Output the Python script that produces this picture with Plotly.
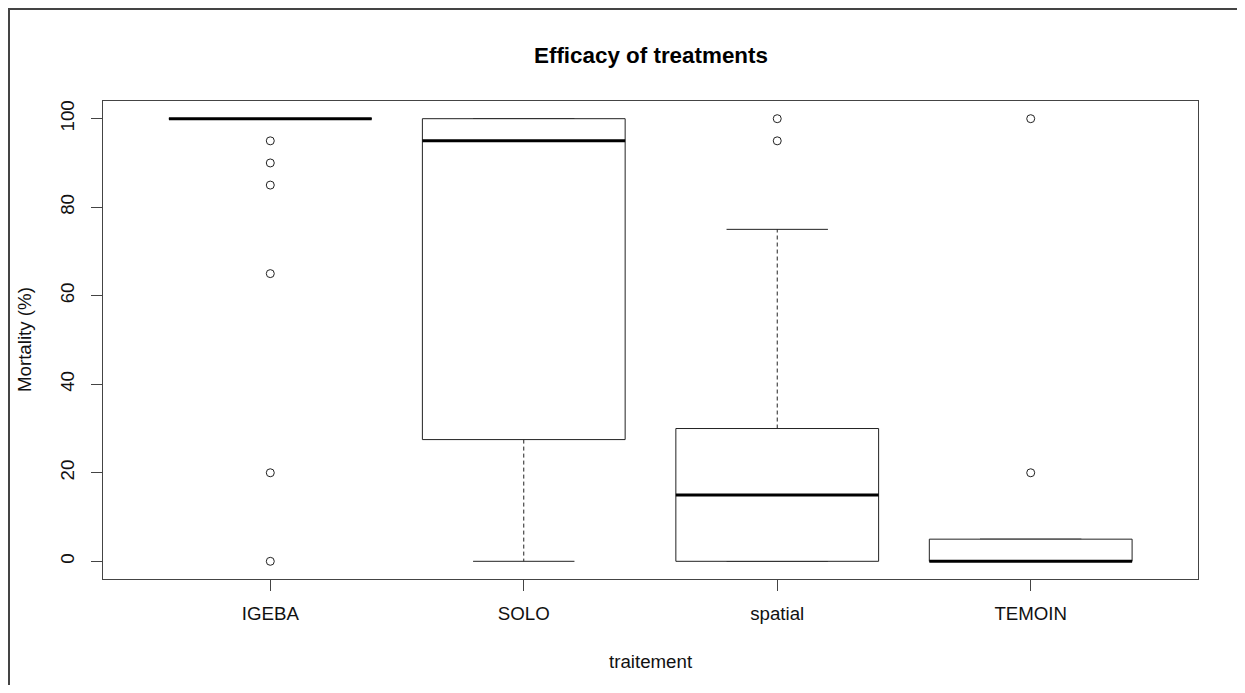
import plotly.graph_objects as go

# ---- data ----
categories = ["IGEBA", "SOLO", "spatial", "TEMOIN"]
q1 = [100, 27.5, 0, 0]
median = [100, 95, 15, 0]
q3 = [100, 100, 30, 5]
whisker_low = [100, 0, 0, 0]
whisker_high = [100, 100, 75, 5]
outliers = [
    [95, 90, 85, 65, 20, 0],
    [],
    [100, 95],
    [100, 20],
]
y_ticks = [0, 20, 40, 60, 80, 100]

# ---- layout constants (page pixels; the page body has an 8px margin) ----
OFF = 8
PAGE_W, PAGE_H = 1245, 693
W, H = PAGE_W - 2 * OFF, PAGE_H - 2 * OFF
plot_left, plot_right, plot_top, plot_bottom = 103, 1198, 101, 579
L = plot_left - OFF
T = plot_top - OFF
R = W - (plot_right - OFF)
B = H - (plot_bottom - OFF)
PW, PH = W - L - R, H - T - B
FONT = "Liberation Sans, Arial, sans-serif"
FS = 18.7
half_box = 0.4
half_staple = 0.2


def py(page_y):
    return (plot_bottom - page_y) / PH


def px(page_x):
    return (page_x - plot_left) / PW


pos = list(range(1, len(categories) + 1))

box_x, box_y = [], []
med_x, med_y = [], []
wh_x, wh_y = [], []
st_x, st_y = [], []
out_x, out_y = [], []
for i, p in enumerate(pos):
    box_x += [p - half_box, p + half_box, p + half_box, p - half_box, p - half_box, None]
    box_y += [q1[i], q1[i], q3[i], q3[i], q1[i], None]
    med_x += [p - half_box, p + half_box, None]
    med_y += [median[i], median[i], None]
    if whisker_high[i] > q3[i]:
        wh_x += [p, p, None]
        wh_y += [q3[i], whisker_high[i], None]
    if whisker_low[i] < q1[i]:
        wh_x += [p, p, None]
        wh_y += [q1[i], whisker_low[i], None]
    st_x += [p - half_staple, p + half_staple, None, p - half_staple, p + half_staple, None]
    st_y += [whisker_low[i], whisker_low[i], None, whisker_high[i], whisker_high[i], None]
    for v in outliers[i]:
        out_x.append(p)
        out_y.append(v)

fig = go.Figure()
fig.add_trace(go.Scatter(x=wh_x, y=wh_y, mode="lines",
                         line=dict(color="#222", width=1, dash="4px,3px"),
                         hoverinfo="skip"))
fig.add_trace(go.Scatter(x=st_x, y=st_y, mode="lines",
                         line=dict(color="#222", width=1), hoverinfo="skip"))
fig.add_trace(go.Scatter(x=box_x, y=box_y, mode="lines",
                         line=dict(color="#222", width=1), fill="toself",
                         fillcolor="white", hoverinfo="skip"))
fig.add_trace(go.Scatter(x=med_x, y=med_y, mode="lines",
                         line=dict(color="black", width=3), hoverinfo="skip"))
fig.add_trace(go.Scatter(x=out_x, y=out_y, mode="markers",
                         marker=dict(symbol="circle-open", size=8,
                                     color="#222", line=dict(width=1))))

axis_common = dict(
    showgrid=False, zeroline=False, showline=True, mirror=True,
    linecolor="#444", linewidth=1, ticks="outside", ticklen=11,
    tickcolor="#444", tickwidth=1,
    tickfont=dict(family=FONT, size=FS, color="#111"),
)

fig.update_layout(
    width=W, height=H,
    margin=dict(l=L, r=R, t=T, b=B),
    paper_bgcolor="white", plot_bgcolor="white",
    showlegend=False,
    xaxis=dict(range=[0.34, len(categories) + 0.66], tickmode="array",
               tickvals=pos, ticktext=categories, ticklabelstandoff=7,
               **axis_common),
    yaxis=dict(range=[-4, 104], tickmode="array", tickvals=y_ticks,
               ticktext=[str(v) for v in y_ticks], tickangle=-90,
               ticklabelstandoff=10, **axis_common),
    annotations=[
        dict(text="<b>Efficacy of treatments</b>", xref="paper", yref="paper",
             x=0.5, y=py(56), xanchor="center", yanchor="middle",
             showarrow=False, font=dict(family=FONT, size=22.4, color="black")),
        dict(text="traitement", xref="paper", yref="paper",
             x=0.5, y=py(661), xanchor="center", yanchor="middle",
             showarrow=False, font=dict(family=FONT, size=FS, color="#111")),
        dict(text="Mortality (%)", xref="paper", yref="paper",
             x=px(24), y=0.5, xanchor="center", yanchor="middle",
             textangle=-90, showarrow=False,
             font=dict(family=FONT, size=FS, color="#111")),
    ],
    shapes=[
        dict(type="rect", xref="paper", yref="paper",
             x0=px(9), x1=px(PAGE_W + 30),
             y0=py(PAGE_H + 30), y1=py(9),
             line=dict(color="#444", width=2), fillcolor="rgba(0,0,0,0)",
             layer="below"),
    ],
)

fig.write_html("out.html")
